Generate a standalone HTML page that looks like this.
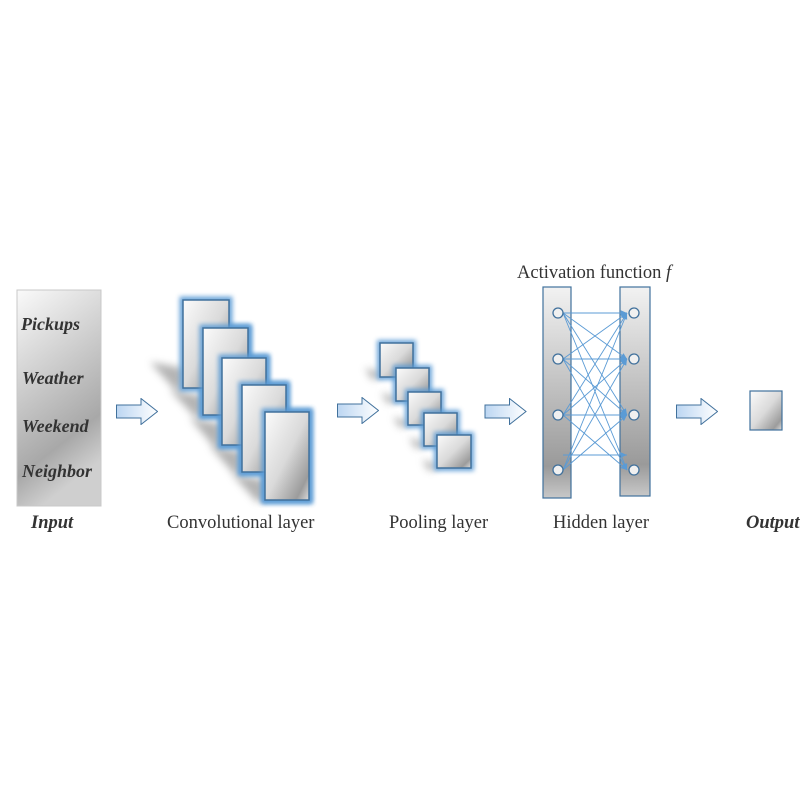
<!DOCTYPE html>
<html><head><style>
body{margin:0;width:810px;height:810px;background:#fff;overflow:hidden;position:relative;font-family:"Liberation Serif",serif}
.t{position:absolute;font-size:18.5px;color:#333;white-space:nowrap}
.b{font-weight:bold;font-style:italic;color:#333}
</style></head><body>
<svg width="810" height="810" style="position:absolute;left:0;top:0">
<defs>
<linearGradient id="g" x1="0" y1="0" x2="1" y2="1"><stop offset="0" stop-color="#fbfbfb"/><stop offset="0.5" stop-color="#dadada"/><stop offset="0.85" stop-color="#9c9c9c"/><stop offset="1" stop-color="#dcdcdc"/></linearGradient>
<linearGradient id="gi" x1="0" y1="0" x2="0.3" y2="1"><stop offset="0" stop-color="#fafafa"/><stop offset="0.8" stop-color="#a8a8a8"/><stop offset="1" stop-color="#cfcfcf"/></linearGradient>
<linearGradient id="gc" x1="0" y1="0" x2="0" y2="1"><stop offset="0" stop-color="#f2f2f2"/><stop offset="0.85" stop-color="#9a9a9a"/><stop offset="1" stop-color="#c8c8c8"/></linearGradient>
<linearGradient id="ga" x1="0" y1="0" x2="1" y2="0"><stop offset="0" stop-color="#bcd6f2"/><stop offset="1" stop-color="#ffffff"/></linearGradient>
<filter id="glow" x="-40%" y="-40%" width="180%" height="180%"><feGaussianBlur stdDeviation="2.5"/></filter>
<filter id="sh" x="-50%" y="-50%" width="200%" height="200%"><feGaussianBlur stdDeviation="4"/></filter>
<marker id="ar" markerWidth="8" markerHeight="8" refX="7" refY="4" orient="auto"><path d="M0,1 L7,4 L0,7 z" fill="#5b9bd5"/></marker>
<symbol id="arrow" viewBox="0 0 42 27"><path d="M0.5,7 H25 V0.5 L41.5,13.5 L25,26.5 V20 H0.5 z" fill="url(#ga)" stroke="#41719c" stroke-width="1"/></symbol>
<g id="gl"><rect width="1" height="1" fill="none"/></g>
</defs>
<rect x="17" y="290" width="84" height="216" fill="url(#gi)" stroke="#c8c8c8"/>
<use href="#arrow" x="116" y="398" width="42" height="27"/>
<use href="#arrow" x="337" y="397" width="42" height="27"/>
<use href="#arrow" x="484" y="398" width="43" height="27"/>
<use href="#arrow" x="676" y="398" width="42" height="27"/>
<g fill="#777" opacity="0.55" filter="url(#sh)">
<polygon points="150,362 183,368 183,388 175,390"/>
<polygon points="170,390 203,396 203,415 195,417"/>
<polygon points="190,418 222,424 222,445 214,447"/>
<polygon points="210,446 242,452 242,472 234,474"/>
<polygon points="232,474 265,480 265,500 257,502"/>
<polygon points="365,368 380,372 380,377 372,380"/>
<polygon points="381,393 396,397 396,401 388,404"/>
<polygon points="393,417 408,421 408,425 400,428"/>
<polygon points="409,438 424,442 424,446 416,449"/>
<polygon points="422,460 437,464 437,468 429,471"/>
</g>
<g stroke="#5b9bd5" stroke-width="7" fill="none" filter="url(#glow)" opacity="0.9">
<rect x="183" y="300" width="46" height="88"/><rect x="203" y="328" width="45" height="87"/><rect x="222" y="358" width="44" height="87"/><rect x="242" y="385" width="44" height="87"/><rect x="265" y="412" width="44" height="88"/>
</g>
<g stroke="#41719c" stroke-width="1.5" fill="url(#g)">
<rect x="183" y="300" width="46" height="88"/></g>
<g stroke="#5b9bd5" stroke-width="7" fill="none" filter="url(#glow)" opacity="0.9"><rect x="203" y="328" width="45" height="87"/></g>
<rect x="203" y="328" width="45" height="87" fill="url(#g)" stroke="#41719c" stroke-width="1.5"/>
<g stroke="#5b9bd5" stroke-width="7" fill="none" filter="url(#glow)" opacity="0.9"><rect x="222" y="358" width="44" height="87"/></g>
<rect x="222" y="358" width="44" height="87" fill="url(#g)" stroke="#41719c" stroke-width="1.5"/>
<g stroke="#5b9bd5" stroke-width="7" fill="none" filter="url(#glow)" opacity="0.9"><rect x="242" y="385" width="44" height="87"/></g>
<rect x="242" y="385" width="44" height="87" fill="url(#g)" stroke="#41719c" stroke-width="1.5"/>
<g stroke="#5b9bd5" stroke-width="7" fill="none" filter="url(#glow)" opacity="0.9"><rect x="265" y="412" width="44" height="88"/></g>
<rect x="265" y="412" width="44" height="88" fill="url(#g)" stroke="#41719c" stroke-width="1.5"/>

<g stroke="#5b9bd5" stroke-width="6" fill="none" filter="url(#glow)" opacity="0.9"><rect x="380" y="343" width="33" height="34"/></g>
<rect x="380" y="343" width="33" height="34" fill="url(#g)" stroke="#41719c" stroke-width="1.5"/>
<g stroke="#5b9bd5" stroke-width="6" fill="none" filter="url(#glow)" opacity="0.9"><rect x="396" y="368" width="33" height="33"/></g>
<rect x="396" y="368" width="33" height="33" fill="url(#g)" stroke="#41719c" stroke-width="1.5"/>
<g stroke="#5b9bd5" stroke-width="6" fill="none" filter="url(#glow)" opacity="0.9"><rect x="408" y="392" width="33" height="33"/></g>
<rect x="408" y="392" width="33" height="33" fill="url(#g)" stroke="#41719c" stroke-width="1.5"/>
<g stroke="#5b9bd5" stroke-width="6" fill="none" filter="url(#glow)" opacity="0.9"><rect x="424" y="413" width="33" height="33"/></g>
<rect x="424" y="413" width="33" height="33" fill="url(#g)" stroke="#41719c" stroke-width="1.5"/>
<g stroke="#5b9bd5" stroke-width="6" fill="none" filter="url(#glow)" opacity="0.9"><rect x="437" y="435" width="34" height="33"/></g>
<rect x="437" y="435" width="34" height="33" fill="url(#g)" stroke="#41719c" stroke-width="1.5"/>

<rect x="543" y="287" width="28" height="211" fill="url(#gc)" stroke="#41719c" stroke-width="1.2"/>
<rect x="620" y="287" width="30" height="209" fill="url(#gc)" stroke="#41719c" stroke-width="1.2"/>
<g stroke="#5b9bd5" stroke-width="0.9" marker-end="url(#ar)">
<line x1="563" y1="313" x2="627" y2="313"/><line x1="563" y1="313" x2="627" y2="359"/><line x1="563" y1="313" x2="627" y2="415"/><line x1="563" y1="313" x2="627" y2="470"/>
<line x1="563" y1="359" x2="627" y2="313"/><line x1="563" y1="359" x2="627" y2="359"/><line x1="563" y1="359" x2="627" y2="415"/><line x1="563" y1="359" x2="627" y2="470"/>
<line x1="563" y1="415" x2="627" y2="313"/><line x1="563" y1="415" x2="627" y2="359"/><line x1="563" y1="415" x2="627" y2="415"/><line x1="563" y1="415" x2="627" y2="470"/>
<line x1="563" y1="470" x2="627" y2="313"/><line x1="563" y1="470" x2="627" y2="359"/><line x1="563" y1="470" x2="627" y2="415"/><line x1="563" y1="455" x2="627" y2="455"/>
</g>
<g fill="#f0f0f0" stroke="#41719c" stroke-width="1.3">
<circle cx="558" cy="313" r="5"/><circle cx="558" cy="359" r="5"/><circle cx="558" cy="415" r="5"/><circle cx="558" cy="470" r="5"/>
<circle cx="634" cy="313" r="5"/><circle cx="634" cy="359" r="5"/><circle cx="634" cy="415" r="5"/><circle cx="634" cy="470" r="5"/>
</g>
<rect x="750" y="391" width="32" height="39" fill="url(#g)" stroke="#41719c" stroke-width="1.2"/>
</svg>
<div class="t b" style="left:21px;top:314px;font-size:18px">Pickups</div>
<div class="t b" style="left:22px;top:368px;font-size:18px">Weather</div>
<div class="t b" style="left:22px;top:416px;font-size:18px">Weekend</div>
<div class="t b" style="left:22px;top:461px;font-size:18px">Neighbor</div>
<div class="t b" style="left:31px;top:513px">Input</div>
<div class="t" style="left:167px;top:513px">Convolutional layer</div>
<div class="t" style="left:389px;top:513px">Pooling layer</div>
<div class="t" style="left:553px;top:513px">Hidden layer</div>
<div class="t b" style="left:746px;top:513px">Output</div>
<div class="t" style="left:517px;top:263px">Activation function <i>f</i></div>
</body></html>
